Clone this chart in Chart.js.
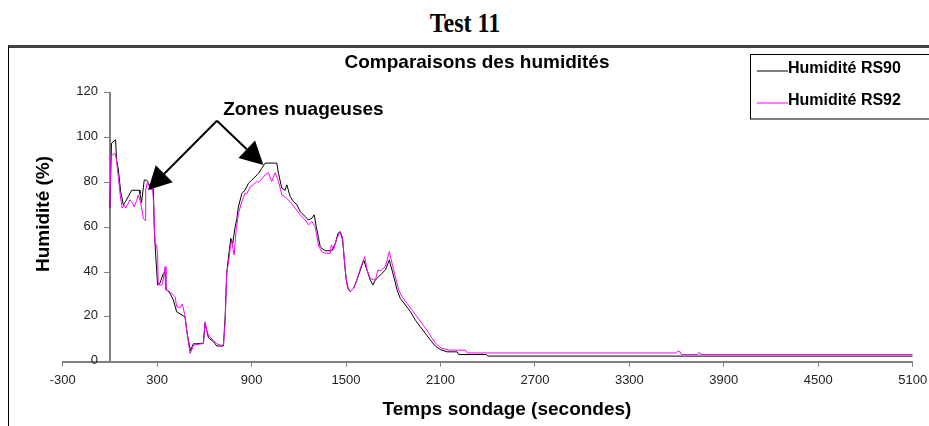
<!DOCTYPE html>
<html>
<head>
<meta charset="utf-8">
<title>Test 11</title>
<script src="https://cdn.jsdelivr.net/npm/chart.js@4.4.1/dist/chart.umd.min.js"></script>
<style>
    body { margin: 0; background: #fff; }
    #page { position: relative; width: 929px; height: 426px; overflow: hidden; }
    #mainTitle {
        position: absolute; left: 0; top: 7px; width: 930px; text-align: center;
        font: bold 28px 'Liberation Serif', 'Times New Roman', serif; color: #000;
        transform: scaleX(0.86); transform-origin: 465px 0;
    }
    #frame {
        position: absolute; left: 8px; top: 45px; width: 940px; height: 400px;
        border-top: 3px solid #404040; border-left: 1px solid #000;
    }
    #chart { position: absolute; left: 0; top: 0; }
</style>
</head>
<body>
<div id="page">
    <div id="mainTitle">Test 11</div>
    <div id="frame"></div>
    <canvas id="chart" width="929" height="426"></canvas>
</div>
<script>
// Axis ticks
const xTicks = [-300, 300, 900, 1500, 2100, 2700, 3300, 3900, 4500, 5100];
const yTicks = [0, 20, 40, 60, 80, 100, 120];

// Humidité RS90 : [temps (s), humidité (%)]
const rs90 = [
    [0, 68.5], [10, 97.5], [36, 99], [42, 90], [53, 86], [68, 76], [85, 70], [100, 71.5], [127, 75], [138, 76.5],
    [187, 76.5], [191, 75], [201, 71], [218, 81], [233, 81], [244, 79.5], [265, 78], [276, 77], [282, 59], [290, 48.4],
    [303, 34.2], [318, 35], [339, 39.4], [350, 40], [354, 32.7], [382, 30.5], [403, 27.5], [424, 22.3], [477, 20], [488, 14],
    [498, 9.6], [512, 5], [530, 8], [551, 8], [594, 8.3], [604, 17], [626, 10.7], [658, 8.9], [679, 7], [721, 7],
    [732, 20], [742, 39.4], [753, 46.6], [768, 55], [780, 52.7], [795, 60], [806, 63.6], [816, 69], [838, 75], [859, 76.6],
    [880, 79.6], [901, 81], [944, 84], [965, 86.3], [986, 88.6], [1060, 88.6], [1071, 84], [1092, 77.4], [1113, 76.5], [1124, 78.9],
    [1145, 73.7], [1166, 71.4], [1188, 70], [1209, 67], [1241, 64.7], [1262, 63.2], [1283, 64], [1298, 65.5], [1311, 60.2], [1326, 55],
    [1336, 51.3], [1347, 50.6], [1368, 49.5], [1410, 49.5], [1432, 52.8], [1449, 57.3], [1463, 58], [1478, 54.3], [1491, 43.9], [1500, 37.2],
    [1512, 32.7], [1527, 31.2], [1548, 32.7], [1569, 36.4], [1591, 40.9], [1612, 45.4], [1633, 40.9], [1654, 36.4], [1671, 34.2], [1686, 36.4],
    [1718, 38.7], [1750, 40.9], [1775, 45.4], [1792, 40.9], [1809, 36.4], [1824, 32], [1845, 28.2], [1877, 25.3], [1909, 22.3], [1941, 18.5],
    [1972, 15.6], [2004, 12.6], [2036, 9.6], [2068, 6.9], [2100, 5.4], [2142, 4.4], [2206, 4.4], [2216, 3.2], [2392, 3.2], [2400, 2.5],
    [5100, 2.5]
];

// Humidité RS92 : [temps (s), humidité (%)]
const rs92 = [
    [0, 68.5], [6, 92.3], [21, 92.3], [32, 93], [42, 90], [53, 82.6], [64, 75], [78, 68.5], [91, 70], [100, 68.5],
    [112, 70], [127, 72.2], [142, 71], [154, 69], [170, 72], [180, 74.4], [191, 72], [201, 69], [212, 64], [223, 63],
    [227, 76.6], [240, 80.4], [248, 78.5], [261, 76.6], [271, 77.5], [280, 67.7], [286, 52.8], [297, 52], [303, 48], [307, 34.2],
    [329, 34.2], [339, 36.8], [350, 42.4], [356, 32], [382, 31.2], [403, 29.7], [414, 29], [424, 24.5], [445, 24], [460, 25.7],
    [477, 20.4], [488, 14], [498, 8.9], [509, 3.7], [520, 5.2], [530, 7.4], [594, 8.1], [604, 17.8], [619, 12.9], [636, 11],
    [658, 9.5], [679, 8], [700, 7.4], [721, 7.4], [732, 17.5], [742, 39.4], [757, 46], [764, 50.6], [774, 54], [780, 51],
    [789, 47.6], [802, 58.8], [817, 66.2], [838, 71.4], [859, 75.2], [870, 75], [891, 78], [912, 79], [933, 80.4], [944, 80],
    [965, 81.5], [986, 83.4], [1007, 84.3], [1028, 80.4], [1050, 84.3], [1071, 80.4], [1092, 74.4], [1113, 73.5], [1145, 71.4], [1177, 68.5],
    [1209, 65.5], [1241, 63.2], [1262, 61], [1283, 62.5], [1304, 60.2], [1326, 51.5], [1347, 49.1], [1368, 48.4], [1400, 48.4], [1406, 52],
    [1421, 50], [1442, 55], [1463, 58], [1478, 55.5], [1495, 40.9], [1506, 34.2], [1527, 31.2], [1548, 32.7], [1569, 36.5], [1591, 41.6],
    [1619, 46.8], [1633, 41], [1654, 37.2], [1675, 36.4], [1690, 37.5], [1703, 41], [1718, 40.5], [1750, 42.4], [1775, 49.1], [1792, 44],
    [1813, 37.9], [1835, 32], [1856, 29], [1888, 26], [1920, 23], [1951, 20], [1983, 17], [2015, 14], [2047, 10.4], [2079, 7.4],
    [2110, 5.9], [2153, 5.2], [2259, 5.1], [2270, 3.9], [3595, 3.9], [3605, 4.6], [3620, 4.6], [3630, 3.2], [3733, 3.2], [3740, 4],
    [3748, 4], [3755, 3.2], [5100, 3.2]
];

// "Zones nuageuses" annotation, in data units (temps, humidité)
const arrowOrigin = [680, 107.5];
const arrowTips = [[242, 76.6], [975, 87.7]];
const noteLabel = { text: 'Zones nuageuses', at: [1229, 110] };

const FONT = "'Liberation Sans', Arial, sans-serif";

function toPoints(rows) {
    return rows.map(r => ({ x: r[0], y: r[1] }));
}

function drawArrow(ctx, x1, y1, x2, y2) {
    const ang = Math.atan2(y2 - y1, x2 - x1);
    const headLen = 23, halfW = 12;
    const bx = x2 - headLen * Math.cos(ang);
    const by = y2 - headLen * Math.sin(ang);
    ctx.beginPath();
    ctx.moveTo(x1, y1);
    ctx.lineTo(bx, by);
    ctx.stroke();
    ctx.beginPath();
    ctx.moveTo(x2, y2);
    ctx.lineTo(bx + halfW * Math.sin(ang), by - halfW * Math.cos(ang));
    ctx.lineTo(bx - halfW * Math.sin(ang), by + halfW * Math.cos(ang));
    ctx.closePath();
    ctx.fill();
}

// titles, y tick labels, annotation and boxed legend
const overlayPlugin = {
    id: 'overlay',
    afterDraw(chart) {
        const ctx = chart.ctx;
        const xs = chart.scales.x;
        const ys = chart.scales.y;
        ctx.save();
        ctx.fillStyle = '#000';
        ctx.strokeStyle = '#000';

        // y tick labels, left of the axis crossing at x = 0
        ctx.font = '13px ' + FONT;
        ctx.fillStyle = '#222';
        ctx.textAlign = 'right';
        ctx.textBaseline = 'middle';
        const axisX = xs.getPixelForValue(0);
        ys.ticks.forEach(t => {
            ctx.fillText(String(t.value), axisX - 12, ys.getPixelForValue(t.value) - 1);
        });
        ctx.fillStyle = '#000';

        // chart title
        ctx.font = 'bold 19px ' + FONT;
        ctx.textAlign = 'center';
        ctx.fillText('Comparaisons des humidités', 477, 63);

        // axis titles
        ctx.fillText('Temps sondage (secondes)', 507, 410);
        ctx.save();
        ctx.translate(44, 214);
        ctx.rotate(-Math.PI / 2);
        ctx.fillText('Humidité (%)', 0, 0);
        ctx.restore();

        // annotation
        ctx.textBaseline = 'alphabetic';
        ctx.fillText(noteLabel.text, xs.getPixelForValue(noteLabel.at[0]), ys.getPixelForValue(noteLabel.at[1]));
        ctx.lineWidth = 2;
        const ox = xs.getPixelForValue(arrowOrigin[0]);
        const oy = ys.getPixelForValue(arrowOrigin[1]);
        arrowTips.forEach(t => {
            drawArrow(ctx, ox, oy, xs.getPixelForValue(t[0]), ys.getPixelForValue(t[1]));
        });

        // legend box
        ctx.lineWidth = 1;
        ctx.strokeRect(750.5, 54.5, 200, 64.5);
        const items = [
            { label: chart.data.datasets[0].label, color: chart.data.datasets[0].borderColor, y: 71 },
            { label: chart.data.datasets[1].label, color: chart.data.datasets[1].borderColor, y: 103 }
        ];
        ctx.font = 'bold 16px ' + FONT;
        ctx.textAlign = 'left';
        items.forEach(it => {
            ctx.strokeStyle = it.color;
            ctx.beginPath();
            ctx.moveTo(757, it.y);
            ctx.lineTo(788, it.y);
            ctx.stroke();
            ctx.fillText(it.label, 788, it.y + 2);
        });
        ctx.restore();
    }
};

new Chart(document.getElementById('chart'), {
    type: 'line',
    data: {
        datasets: [
            {
                label: 'Humidité RS90',
                data: toPoints(rs90),
                borderColor: '#000000',
                borderWidth: 1,
                pointRadius: 0,
                tension: 0,
                order: 1
            },
            {
                label: 'Humidité RS92',
                data: toPoints(rs92),
                borderColor: '#ff00ff',
                borderWidth: 1,
                pointRadius: 0,
                tension: 0,
                order: 0
            }
        ]
    },
    options: {
        responsive: false,
        animation: false,
        layout: {
            padding: { left: 62.7, right: 16.3, top: 92.7, bottom: 34.3 }
        },
        plugins: {
            legend: { display: false },
            title: { display: false },
            tooltip: { enabled: false }
        },
        scales: {
            x: {
                type: 'linear',
                position: 'bottom',
                min: -300,
                max: 5100,
                afterBuildTicks: s => { s.ticks = xTicks.map(v => ({ value: v })); },
                afterFit: s => { s.height = 30; s.paddingLeft = 0; s.paddingRight = 0; },
                grid: { drawOnChartArea: false, tickLength: 5, color: '#808080' },
                border: { color: '#808080', width: 2 },
                ticks: {
                    padding: 6, color: '#222', maxRotation: 0, autoSkip: false,
                    font: { family: FONT, size: 13 },
                    callback: v => String(v)
                }
            },
            y: {
                type: 'linear',
                position: { x: 0 },
                min: 0,
                max: 120,
                afterBuildTicks: s => { s.ticks = yTicks.map(v => ({ value: v })); },
                grid: { drawOnChartArea: false, tickLength: 5, color: '#808080' },
                border: { color: '#808080', width: 2 },
                ticks: { display: false }
            }
        }
    },
    plugins: [overlayPlugin]
});
</script>
</body>
</html>
